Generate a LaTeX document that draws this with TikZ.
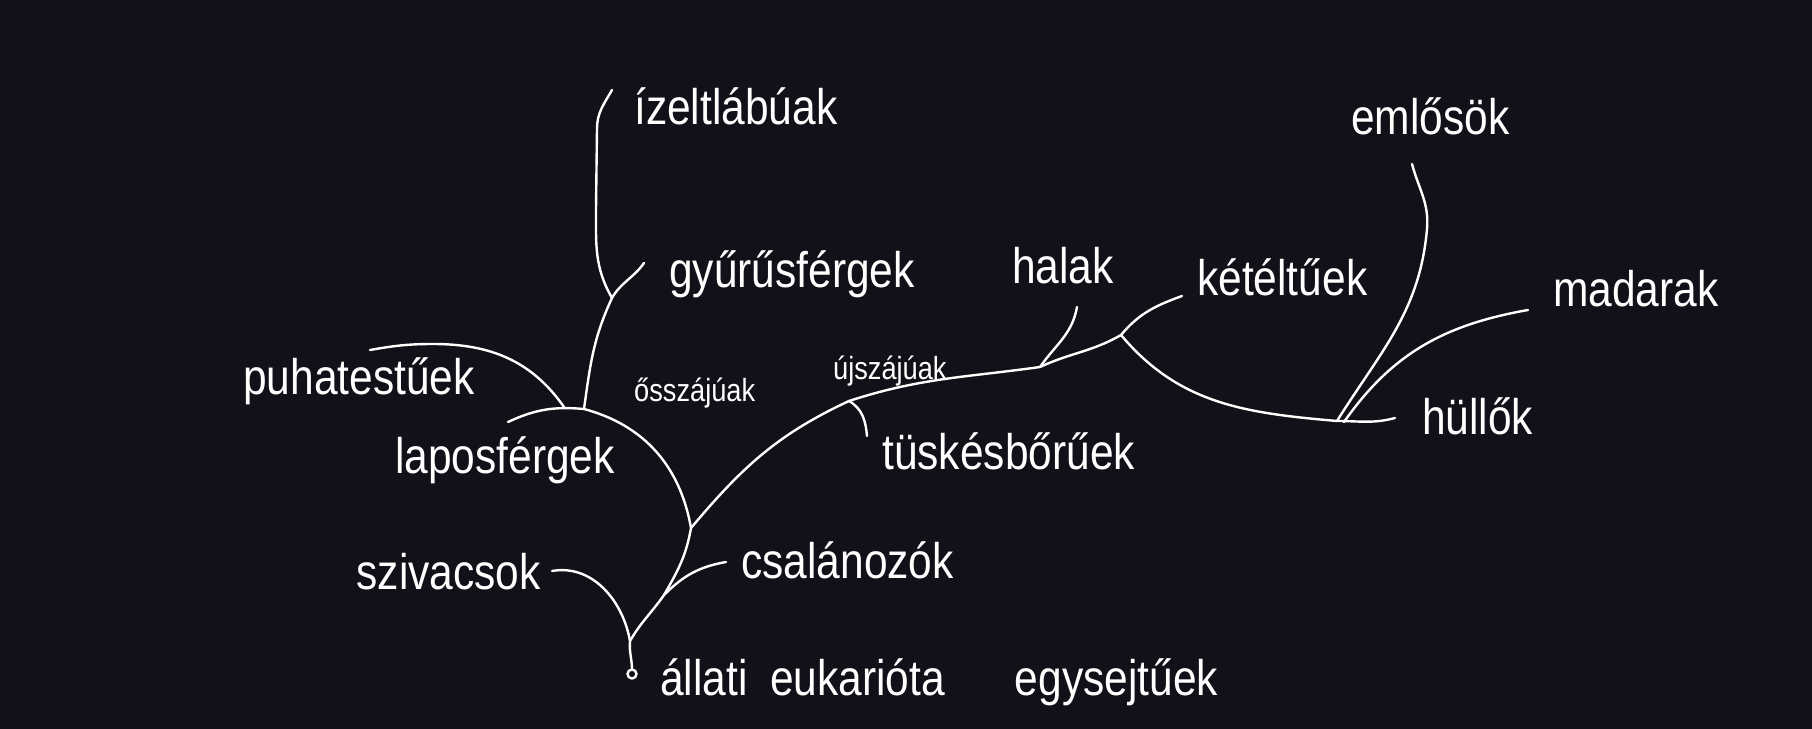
\documentclass[tikz,border=0pt]{standalone}
\usepackage{fontspec}
\setmainfont{Liberation Sans}[FakeStretch=0.85]
\definecolor{board}{RGB}{17,18,25}

\begin{document}
\begin{tikzpicture}[x=0.5pt, y=0.5pt, white, line width=1.2pt, line cap=round,
    every node/.style={text=white, font=\fontsize{25}{30}\selectfont, inner sep=0pt},
    minor/.style={font=\fontsize{16}{20}\selectfont}]
    \path[use as bounding box, fill=board] (0,0) rectangle (1812,729);

    % branch points
    \node[circle, draw, inner sep=0pt, minimum size=4.5pt] (root) at (632,55) {};
    \coordinate (sziv) at (630,88);
    \coordinate (csal) at (664,134);
    \coordinate (uj) at (691,201);
    \coordinate (os) at (584,320);
    \coordinate (puha) at (564,322);
    \coordinate (gyur) at (612,431);
    \coordinate (tusk) at (849,328);
    \coordinate (hal) at (1040,362);
    \coordinate (ket) at (1121,394);
    \coordinate (hull) at (1337,308);
    \coordinate (mad) at (1344,307);

    % free ends
    \coordinate (laposE) at (508,307);
    \coordinate (puhaE) at (370,379);
    \coordinate (izeltE) at (612,639);
    \coordinate (gyurE) at (644,466);
    \coordinate (szivE) at (552,158);
    \coordinate (csalE) at (726,167);
    \coordinate (tuskE) at (867,293);
    \coordinate (halE) at (1077,422);
    \coordinate (ketE) at (1182,433);
    \coordinate (hullE) at (1395,311);
    \coordinate (emlosE) at (1412,565);
    \coordinate (madE) at (1528,419);

    % labels
    \node[anchor=west] (izelt) at (633,623) {ízeltlábúak};
    \node[anchor=west] (gyurL) at (668,455) {gyűrűsférgek};
    \node[anchor=east] (puhaL) at (476,348) {puhatestűek};
    \node[anchor=east] (laposL) at (616,269) {laposférgek};
    \node[anchor=west, minor] (osL) at (633,336) {ősszájúak};
    \node[anchor=west, minor] (ujL) at (832,358) {újszájúak};
    \node[anchor=west] (tuskL) at (881,278) {tüskésbőrűek};
    \node[anchor=east] (szivL) at (542,157) {szivacsok};
    \node[anchor=west] (csalL) at (740,169) {csalánozók};
    \node[anchor=west] (egysejt) at (659,47) {állati\hspace{0.45em}eukarióta\hspace{1.4em}egysejtűek};
    \node[anchor=west] (halL) at (1011,463) {halak};
    \node[anchor=west] (ketL) at (1196,452) {kétéltűek};
    \node[anchor=west] (emlosL) at (1350,613) {emlősök};
    \node[anchor=west] (madL) at (1552,440) {madarak};
    \node[anchor=west] (hullL) at (1421,313) {hüllők};

    % trunk
    \draw (root.north) to[out=92,in=-95] (sziv) to[out=60,in=-125] (csal)
        to[out=60,in=-100] (uj);
    \draw (uj) to[out=100,in=-15] (os) to[out=175,in=25] (laposE);
    \draw (os) to[out=82,in=-115] (gyur) to[out=60,in=-125] (gyurE);
    \draw (gyur) to[out=120,in=-90] (596,520) -- (597,600) to[out=90,in=-120] (izeltE);
    \draw (puha) to[out=125,in=0] (433,385) to[out=180,in=10] (puhaE);
    \draw (sziv) to[out=100,in=10] (szivE);
    \draw (csal) to[out=45,in=190] (csalE);

    % deuterostomes
    \draw (uj) to[out=50,in=-155] (tusk) to[out=18,in=188] (hal) to[out=25,in=-150] (ket);
    \draw (tusk) to[out=-30,in=95] (tuskE);
    \draw (hal) to[out=55,in=-100] (halE);
    \draw (ket) to[out=50,in=-160] (ketE);
    \draw (ket) to[out=-50,in=175] (hull) to[out=0,in=195] (hullE);
    \draw (hull) to[out=58,in=-95] (1427,500) to[out=85,in=-75] (emlosE);
    \draw (mad) to[out=55,in=-170] (madE);

    \end{tikzpicture}
\end{document}
